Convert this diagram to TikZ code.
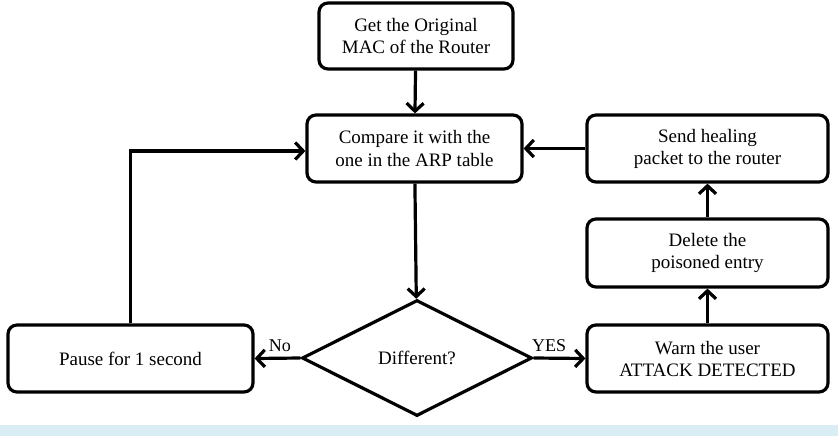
\documentclass[tikz,border=0pt]{standalone}
\usepackage{fontspec}
\setmainfont{Liberation Serif}
\usetikzlibrary{shapes.geometric,arrows.meta}
\definecolor{bandblue}{RGB}{218,237,245}
\begin{document}
\begin{tikzpicture}[x=1pt, y=-1pt,
  stepbox/.style={draw, line width=3.2pt, rounded corners=9pt, align=center, inner sep=0pt, font=\fontsize{19}{22}\selectfont},
  decision/.style={draw, diamond, line width=3.2pt, inner sep=0pt, minimum width=230pt, minimum height=116pt, font=\fontsize{19}{22}\selectfont},
  flow/.style={line width=3.2pt, -{Straight Barb[length=8pt, width=17pt]}},
  choice/.style={font=\fontsize{18}{20}\selectfont, inner sep=1pt, above=4pt}]
\useasboundingbox (0,0) rectangle (838,436);
\fill[bandblue] (0,425) rectangle (838,436);

\node[stepbox, minimum width=194pt, minimum height=66pt] (get) at (416,36) {Get the Original\\MAC of the Router};
\node[stepbox, minimum width=215pt, minimum height=67pt] (compare) at (414.5,148.5) {Compare it with the\\one in the ARP table};
\node[decision] (diff) at (417,358) {Different?};
\node[stepbox, minimum width=245pt, minimum height=67pt] (pause) at (130.5,358.5) {Pause for 1 second};
\node[stepbox, minimum width=241pt, minimum height=67pt] (warn) at (707.5,358.5) {Warn the user\\ATTACK DETECTED};
\node[stepbox, minimum width=241pt, minimum height=68pt] (delete) at (707.5,253) {Delete the\\poisoned entry};
\node[stepbox, minimum width=241pt, minimum height=67pt] (send) at (707.5,148.5) {Send healing\\packet to the router};

\draw[flow] (get) -- (compare);
\draw[flow] (compare) -- (diff);
\draw[flow] (diff.west) -- node[choice, pos=0.45] {No} (pause.east);
\draw[flow] (diff.east) -- node[choice, pos=0.3] {YES} (warn.west);
\draw[flow] (warn) -- (delete);
\draw[flow] (delete) -- (send);
\draw[flow] (send) -- (compare);
\draw[flow] (pause.north) |- ([yshift=-2.5pt]compare.west);
\end{tikzpicture}
\end{document}
